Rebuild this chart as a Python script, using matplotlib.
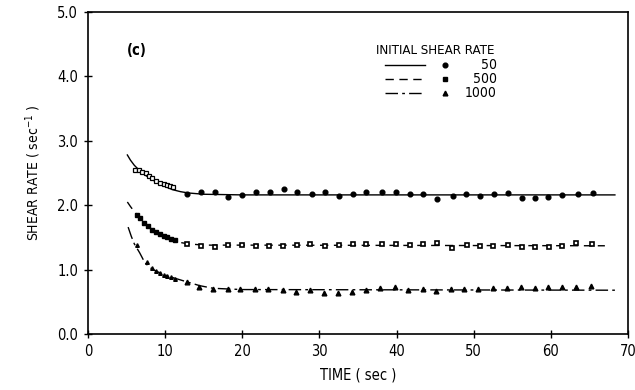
import matplotlib
matplotlib.use("Agg")
import matplotlib.pyplot as plt
from matplotlib.lines import Line2D

plt.rcParams['font.family'] = ['DejaVu Sans']
plt.rcParams['font.stretch'] = 'condensed'

# --- fitted curves ---
t_fit50 = [5.1, 5.5, 6.0, 6.5, 7.0, 7.5, 8.0, 9.0, 10.0, 11.0, 12.0, 13.0, 15.0, 20.0, 68.3]
y_fit50 = [2.78, 2.70, 2.62, 2.56, 2.51, 2.46, 2.42, 2.35, 2.29, 2.24, 2.21, 2.19, 2.17, 2.16, 2.16]

t_fit500 = [5.1, 5.5, 6.0, 6.5, 7.0, 7.5, 8.0, 9.0, 10.0, 11.0, 12.0, 13.0, 15.0, 20.0, 67.0]
y_fit500 = [2.05, 1.98, 1.90, 1.83, 1.76, 1.70, 1.65, 1.57, 1.50, 1.45, 1.42, 1.40, 1.38, 1.38, 1.37]

t_fit1000 = [5.2, 5.6, 6.0, 6.7, 7.4, 8.4, 9.5, 10.6, 11.7, 12.8, 14.5, 16.2, 18.0, 20.0, 68.3]
y_fit1000 = [1.66, 1.52, 1.40, 1.26, 1.10, 1.00, 0.94, 0.89, 0.85, 0.81, 0.75, 0.71, 0.70, 0.69, 0.68]

# --- measured data ---
t_50 = [6.1, 6.6, 7.0, 7.5, 7.9, 8.3, 8.8, 9.3, 9.8, 10.2, 10.6, 11.0,
        12.8, 14.6, 16.5, 18.1, 19.9, 21.8, 23.6, 25.4, 27.1, 29.0, 30.7, 32.5,
        34.3, 36.1, 38.1, 39.9, 41.7, 43.4, 45.3, 47.3, 49.0, 50.8, 52.6, 54.4,
        56.2, 57.9, 59.6, 61.5, 63.5, 65.4]
y_50 = [2.55, 2.54, 2.52, 2.50, 2.45, 2.42, 2.38, 2.34, 2.33, 2.31, 2.30, 2.28,
        2.17, 2.21, 2.21, 2.12, 2.16, 2.21, 2.20, 2.25, 2.20, 2.18, 2.20, 2.14,
        2.18, 2.20, 2.20, 2.20, 2.17, 2.17, 2.10, 2.14, 2.17, 2.14, 2.17, 2.19,
        2.11, 2.11, 2.13, 2.16, 2.17, 2.19]

t_500 = [6.3, 6.8, 7.3, 7.8, 8.3, 8.8, 9.3, 9.8, 10.3, 10.8, 11.3,
         12.8, 14.6, 16.5, 18.1, 19.9, 21.8, 23.4, 25.3, 27.1, 28.8, 30.7, 32.5,
         34.3, 36.1, 38.1, 39.9, 41.7, 43.4, 45.3, 47.2, 49.1, 50.8, 52.5, 54.4,
         56.2, 58.0, 59.7, 61.5, 63.3, 65.3]
y_500 = [1.85, 1.80, 1.72, 1.68, 1.62, 1.58, 1.56, 1.52, 1.50, 1.48, 1.46,
         1.40, 1.37, 1.35, 1.38, 1.38, 1.36, 1.36, 1.36, 1.38, 1.40, 1.37, 1.38,
         1.40, 1.40, 1.40, 1.40, 1.38, 1.40, 1.41, 1.34, 1.38, 1.37, 1.37, 1.38,
         1.35, 1.35, 1.35, 1.37, 1.41, 1.40]

t_1000 = [6.4, 7.6, 8.3, 8.8, 9.3, 9.8, 10.3, 10.8, 11.3,
          12.8, 14.4, 16.2, 18.1, 19.7, 21.6, 23.3, 25.3, 26.9, 28.8, 30.6, 32.4,
          34.2, 36.0, 37.9, 39.8, 41.5, 43.4, 45.1, 47.0, 48.8, 50.5, 52.5, 54.3,
          56.1, 57.9, 59.6, 61.5, 63.3, 65.2]
y_1000 = [1.38, 1.12, 1.02, 0.98, 0.95, 0.92, 0.90, 0.88, 0.86,
          0.81, 0.73, 0.70, 0.70, 0.70, 0.70, 0.70, 0.68, 0.65, 0.68, 0.64, 0.64,
          0.65, 0.68, 0.71, 0.73, 0.68, 0.70, 0.67, 0.70, 0.70, 0.70, 0.71, 0.71,
          0.73, 0.71, 0.73, 0.73, 0.73, 0.75]

x_ticks = [0, 10, 20, 30, 40, 50, 60, 70]
y_ticks = [0.0, 1.0, 2.0, 3.0, 4.0, 5.0]
y_ticklabels = ["0.0", "1.0", "2.0", "3.0", "4.0", "5.0"]
legend_labels = ["50", "500", "1000"]

fig = plt.figure(figsize=(6.35, 3.9), dpi=100)
ax = fig.add_axes([0.1386, 0.1436, 0.8504, 0.8256])

k = 'black'
ax.plot(t_fit50, y_fit50, color=k, lw=1.0, ls='-')
ax.plot(t_fit500, y_fit500, color=k, lw=1.0, ls=(0, (6, 4)))
ax.plot(t_fit1000, y_fit1000, color=k, lw=1.0, ls=(0, (9, 3, 2, 3)))

# early, densely sampled points are drawn smaller (as in the reference)
n50, n500, n1000 = 12, 11, 9
ax.plot(t_50[:n50], y_50[:n50], ls='none', marker='s', ms=2.2, mfc='white', mec=k, mew=0.9)
ax.plot(t_50[n50:], y_50[n50:], ls='none', marker='o', ms=3.4, mfc=k, mec=k)
ax.plot(t_500[:n500], y_500[:n500], ls='none', marker='s', ms=2.2, mfc=k, mec=k)
ax.plot(t_500[n500:], y_500[n500:], ls='none', marker='s', ms=3.2, mfc='white', mec=k, mew=1.2)
ax.plot(t_1000[:n1000], y_1000[:n1000], ls='none', marker='^', ms=2.6, mfc=k, mec=k)
ax.plot(t_1000[n1000:], y_1000[n1000:], ls='none', marker='^', ms=3.4, mfc=k, mec=k)

ax.set_xlim(0, 70)
ax.set_ylim(0, 5)
ax.set_xticks(x_ticks)
ax.set_yticks(y_ticks)
ax.set_yticklabels(y_ticklabels)
ax.tick_params(direction='inout', length=6, width=1, labelsize=10.5, pad=4)
for s in ax.spines.values():
    s.set_linewidth(1.2)

ax.set_xlabel("TIME ( sec )", fontsize=10.5, labelpad=6)
ax.set_ylabel("SHEAR RATE ( sec$^{-1}$ )", fontsize=10, labelpad=10)

ax.text(0.09, 0.88, "(c)", transform=ax.transAxes, fontsize=10.5, fontweight='bold',
        ha='center', va='center')

# legend drawn manually
ax.text(0.643, 0.882, "INITIAL SHEAR RATE", transform=ax.transAxes, fontsize=9.5,
        ha='center', va='center')
styles = ['-', (0, (6, 4)), (0, (9, 3, 2, 3))]
markers = [('o', k), ('s', k), ('^', k)]
rows = [0.835, 0.792, 0.748]
for ls, (m, fc), yy, lab in zip(styles, markers, rows, legend_labels):
    ax.add_line(Line2D([0.55, 0.624], [yy, yy], transform=ax.transAxes, color=k, lw=1.0, ls=ls))
    ax.add_line(Line2D([0.661], [yy], transform=ax.transAxes, ls='none', marker=m,
                       ms=3.4, mfc=fc, mec=k, mew=1.0))
    ax.text(0.757, yy, lab, transform=ax.transAxes, fontsize=10, ha='right', va='center')

fig.savefig("out.png", dpi=100)
